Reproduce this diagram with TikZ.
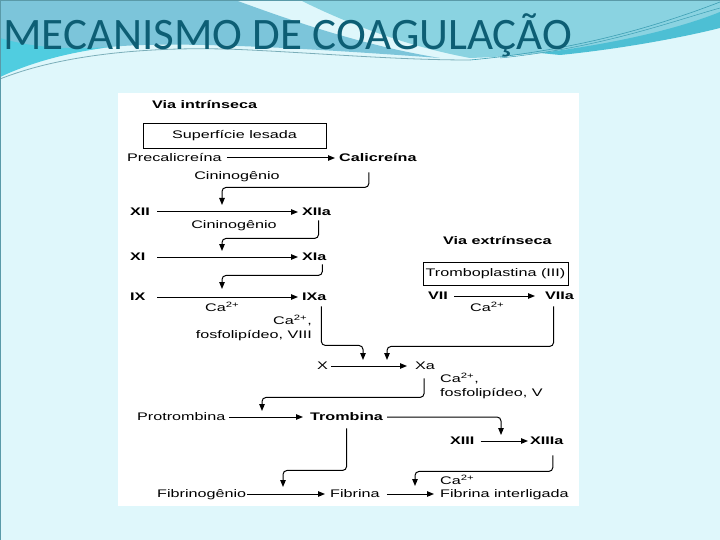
\documentclass[tikz,border=0pt]{standalone}
\usepackage{fontspec}
\setmainfont{Liberation Sans}
\newfontfamily\dg[FakeStretch=1.47]{Liberation Sans}
\newfontfamily\ttl{Carlito}
\usetikzlibrary{arrows.meta,calc}
\definecolor{bgpale}{HTML}{DFF7FB}
\definecolor{topmid}{HTML}{7CC5DA}
\definecolor{topright}{HTML}{8AD3E1}
\definecolor{leftcyan}{HTML}{50CDE0}
\definecolor{stripe}{HTML}{4DBFD4}
\definecolor{stripeline}{HTML}{3D9FB3}
\definecolor{titlecol}{HTML}{0D5E74}
\definecolor{frame}{HTML}{5A9AA8}
\begin{document}
\begin{tikzpicture}[x=1pt,y=-1pt,
  lab/.style={inner sep=0pt,anchor=west,text height=8pt,text depth=0.5pt,font=\dg\fontsize{11}{14}\selectfont},
  blab/.style={lab,font=\dg\bfseries\fontsize{11}{14}\selectfont},
  mlab/.style={inner sep=0pt,font=\dg\fontsize{11}{14}\selectfont},
  boxed/.style={draw,line width=0.9pt,inner sep=0pt,font=\dg\fontsize{11}{14}\selectfont},
  flow/.style={-{Triangle[length=7pt,width=5.5pt]},line width=1pt},
  elbow/.style={flow,rounded corners=4pt}]
\useasboundingbox (0,0) rectangle (720,540);
% background
\fill[bgpale] (0,0) rectangle (720,540);
\fill[topmid] (0,0) -- (235,0) .. controls (290,20) and (360,45) .. (440,58)
  .. controls (330,50) and (180,40) .. (110,47) .. controls (60,53) and (25,63) .. (0,77) -- cycle;
\fill[topright] (300,0) -- (720,0) -- (720,20) .. controls (640,38) and (560,55) .. (470,58)
  .. controls (400,45) and (340,20) .. (300,0) -- cycle;
\fill[leftcyan] (0,38) .. controls (30,47) and (65,50) .. (110,47)
  .. controls (65,53) and (30,63) .. (0,77) -- cycle;
\fill[stripe] (540,53) .. controls (620,43) and (680,28) .. (720,12) -- (720,28)
  .. controls (680,38) and (620,49) .. (560,55) -- cycle;
\draw[stripeline,line width=0.6pt] (470,60) .. controls (580,50) and (660,25) .. (720,2);
\draw[stripeline,line width=0.5pt] (500,58) .. controls (600,48) and (670,22) .. (720,8);
\draw[frame!80,line width=0.8pt] (0,79) .. controls (60,55) and (150,45) .. (250,50)
  .. controls (330,54) and (400,60) .. (470,60);
\draw[frame,line width=1pt] (0.5,540) -- (0.5,0.5) -- (720,0.5);
% title
\node[inner sep=0pt,anchor=base west,text=titlecol,font=\ttl\fontsize{45}{48}\selectfont] (title) at (3,50) {MECANISMO DE COAGULAÇÃO};
% diagram panel
\fill[white] (118,93) rectangle (579,506);
% nodes
\node[blab] (vi) at (152,105) {Via intrínseca};
\node[boxed,minimum width=183pt,minimum height=25pt] (sl) at (234.5,135.5) {Superfície lesada};
\node[lab] (pre) at (127,158) {Precalicreína};
\node[blab] (cal) at (339,158) {Calicreína};
\node[lab,anchor=center] (cin1) at (237,176) {Cininogênio};
\node[blab,text width=27pt] (xii) at (130,212) {XII};
\node[blab] (xiia) at (302,212) {XIIa};
\node[lab,anchor=center] (cin2) at (234,225) {Cininogênio};
\node[blab,text width=27pt] (xi) at (130,257) {XI};
\node[blab] (xia) at (302,257) {XIa};
\node[blab,text width=27pt] (ix) at (130,297) {IX};
\node[blab] (ixa) at (302,297) {IXa};
\node[lab] (ca1) at (205,308) {Ca\textsuperscript{2+}};
\node[mlab,anchor=east,align=right] (ca2) at (312,328) {Ca\textsuperscript{2+},\\fosfolipídeo, VIII};
\node[blab] (ve) at (443,241) {Via extrínseca};
\node[boxed,minimum width=145pt,minimum height=23pt] (tp) at (495.5,273.5) {Tromboplastina (III)};
\node[blab] (vii) at (428,296) {VII};
\node[blab] (viia) at (545,296) {VIIa};
\node[lab] (ca3) at (470,308) {Ca\textsuperscript{2+}};
\node[lab] (x) at (317,366) {X};
\node[lab] (xa) at (415,366) {Xa};
\node[mlab,anchor=west,align=left] (ca4) at (440,386) {Ca\textsuperscript{2+},\\fosfolipídeo, V};
\node[lab] (pro) at (137,417) {Protrombina};
\node[blab] (tro) at (310,417) {Trombina};
\node[blab] (xiii) at (450,441) {XIII};
\node[blab] (xiiia) at (530,441) {XIIIa};
\node[lab] (ca5) at (440,481) {Ca\textsuperscript{2+}};
\node[lab] (fgn) at (157,494) {Fibrinogênio};
\node[lab] (fib) at (330,494) {Fibrina};
\node[lab] (fil) at (440,494) {Fibrina interligada};
% junction points on arrows
\coordinate (m12) at (222,212);
\coordinate (m11) at (222,257);
\coordinate (m9) at (222,297);
\coordinate (mx1) at (363,366);
\coordinate (mx2) at (387,366);
\coordinate (mp) at (262,417);
\coordinate (m13) at (501,441);
\coordinate (mf1) at (283,494);
\coordinate (mf2) at (415,494);
% straight arrows
\draw[flow,shorten <=5pt,shorten >=4pt] (pre.east) -- (pre.east -| cal.west);
\draw[flow,shorten >=4pt] (xii.east) -- (xii.east -| xiia.west);
\draw[flow,shorten >=4pt] (xi.east) -- (xi.east -| xia.west);
\draw[flow,shorten >=4pt] (ix.east) -- (ix.east -| ixa.west);
\draw[flow,shorten <=6pt,shorten >=10pt] (vii.east) -- (vii.east -| viia.west);
\draw[flow,shorten <=3pt,shorten >=8pt] (x.east) -- (x.east -| xa.west);
\draw[flow,shorten <=4pt,shorten >=7pt] (pro.east) -- (pro.east -| tro.west);
\draw[flow,shorten <=6pt,shorten >=2pt] (xiii.east) -- (xiii.east -| xiiia.west);
\draw[flow,shorten <=1pt,shorten >=5pt] (fgn.east) -- (fgn.east -| fib.west);
\draw[flow,shorten <=7pt,shorten >=6pt] (fib.east) -- (fib.east -| fil.west);
% elbow arrows
\draw[elbow,shorten <=10pt,shorten >=7pt] ([xshift=-9pt]cal.south) -- ++(0,25) -| (m12);
\draw[elbow,shorten <=4pt,shorten >=6pt] ([xshift=2pt]xiia.south) -- ++(0,22) -| (m11);
\draw[elbow,shorten <=3pt,shorten >=8pt] ([xshift=8pt]xia.south) -- ++(0,14) -| (m9);
\draw[elbow,shorten <=5pt,shorten >=6pt] ([xshift=7pt]ixa.south) -- ++(0,44) -| (mx1);
\draw[elbow,shorten <=6pt,shorten >=6pt] ([xshift=-6pt]viia.south) -- ++(0,46) -| (mx2);
\draw[elbow,shorten <=8pt,shorten >=6pt] ([xshift=-1pt]xa.south) -- ++(0,27) -| (mp);
\draw[elbow,shorten <=4pt,shorten >=6pt] (tro.east) -| (m13);
\draw[elbow,shorten <=7pt,shorten >=7pt] (tro.south) -- ++(0,49) -| (mf1);
\draw[elbow,shorten <=10pt,shorten >=8pt] ([xshift=6pt]xiiia.south) -- ++(0,26) -| (mf2);
\end{tikzpicture}
\end{document}
